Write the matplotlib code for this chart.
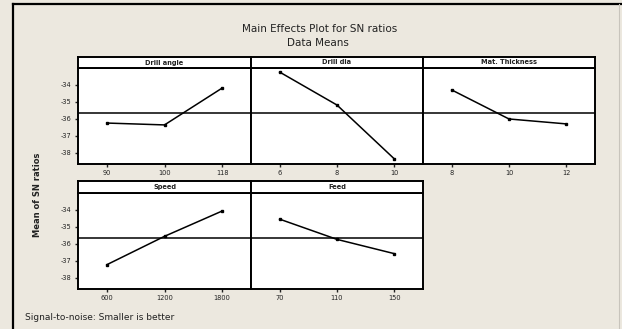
import matplotlib
matplotlib.use("Agg")
import matplotlib.pyplot as plt
from matplotlib.lines import Line2D

# Factor names and level labels
factors = ["Drill angle", "Drill dia", "Mat. Thickness", "Speed", "Feed"]
level_labels = {
    "Drill angle": ["90", "100", "118"],
    "Drill dia": ["6", "8", "10"],
    "Mat. Thickness": ["8", "10", "12"],
    "Speed": ["600", "1200", "1800"],
    "Feed": ["70", "110", "150"],
}
# Mean SN ratio at each level
sn_means = {
    "Drill angle": [-36.24, -36.35, -34.18],
    "Drill dia": [-33.24, -35.18, -38.35],
    "Mat. Thickness": [-34.29, -36.00, -36.29],
    "Speed": [-37.22, -35.55, -34.06],
    "Feed": [-34.54, -35.73, -36.57],
}
grand_mean = -35.62
y_ticks = [-34, -35, -36, -37, -38]

W, H = 622, 329
bg = "#ECE8DF"
fig = plt.figure(figsize=(W / 100, H / 100), dpi=100, facecolor=bg)


def rect(x0, y0, x1, y1):
    return [x0 / W, 1 - y1 / H, (x1 - x0) / W, (y1 - y0) / H]


# outer frame
fig.add_artist(Line2D([13 / W, 13 / W], [0, 1 - 4 / H], color="black", lw=1.6))
fig.add_artist(Line2D([13 / W, 1], [1 - 4 / H, 1 - 4 / H], color="black", lw=1.6))
fig.add_artist(Line2D([619 / W, 619 / W], [0, 1 - 4 / H], color="#C8C4BC", lw=0.8))

fig.text(320 / W, 1 - 29 / H, "Main Effects Plot for SN ratios", ha="center",
         va="center", fontsize=7.5, color="#222222")
fig.text(318 / W, 1 - 43 / H, "Data Means", ha="center", va="center",
         fontsize=7.5, color="#222222")

col_edges = [78, 251, 423, 595]
rows = [(57, 68, 164), (181, 193, 289)]

for i, name in enumerate(factors):
    r, c = divmod(i, 3)
    st, top, bot = rows[r]
    x0, x1 = col_edges[c], col_edges[c + 1]

    ax = fig.add_axes(rect(x0, top, x1, bot))
    ax.set_facecolor("white")
    xs = [1, 2, 3]
    ax.plot(xs, sn_means[name], color="black", lw=1.1, marker="s",
            markersize=1.8)
    ax.axhline(grand_mean, color="black", lw=1.1)
    ax.set_xlim(0.5, 3.5)
    ax.set_ylim(-38.65, -33.0)
    ax.set_xticks(xs)
    ax.set_xticklabels(level_labels[name])
    ax.set_yticks(y_ticks)
    if c == 0:
        ax.set_yticklabels([str(t) for t in y_ticks])
    else:
        ax.tick_params(axis="y", left=False, labelleft=False)
    ax.tick_params(axis="both", labelsize=4.8, length=2.5, width=1.0,
                   pad=2, colors="#222222")
    for s in ax.spines.values():
        s.set_linewidth(1.4)
        s.set_color("black")

    sax = fig.add_axes(rect(x0, st, x1, top))
    sax.set_facecolor("white")
    sax.set_xticks([])
    sax.set_yticks([])
    for s in sax.spines.values():
        s.set_linewidth(1.4)
        s.set_color("black")
    sax.text(0.5, 0.5, name, ha="center", va="center", fontsize=4.8,
             fontweight="bold", color="#222222", transform=sax.transAxes)

fig.text(37 / W, 1 - 195 / H, "Mean of SN ratios", rotation=90, ha="center",
         va="center", fontsize=6, fontweight="bold", color="#222222")
fig.text(25 / W, 1 - 317 / H, "Signal-to-noise: Smaller is better", ha="left",
         va="center", fontsize=6.5, color="#222222")

fig.savefig("out.png", dpi=100, facecolor=bg)
